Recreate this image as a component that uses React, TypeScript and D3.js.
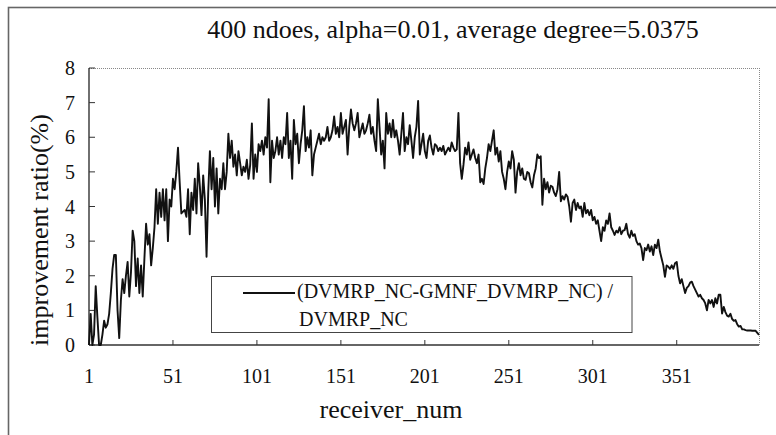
import React from "react";
import * as d3 from "d3";

const title = "400 ndoes, alpha=0.01, average degree=5.0375";
const xLabel = "receiver_num";
const yLabel = "improvement ratio(%)";
const legendLine1 = "(DVMRP_NC-GMNF_DVMRP_NC) /";
const legendLine2 = "DVMRP_NC";

const xTicks = [1, 51, 101, 151, 201, 251, 301, 351];
const yTicks = [0, 1, 2, 3, 4, 5, 6, 7, 8];

const ratio: number[] = [
  0, 0.9, 0, 0.3, 1.7, 0.8, 0, 0, 0.3, 0.7,
  0.5, 0.6, 0.9, 1.5, 2.2, 2.6, 2.6, 1.0, 0.2, 1.3,
  1.9, 1.5, 2.0, 2.4, 1.4, 2.1, 3.3, 3.0, 1.7, 2.5,
  1.5, 2.3, 1.4, 2.5, 3.5, 2.9, 3.2, 2.3, 2.8, 3.4,
  4.5, 3.5, 4.4, 3.7, 4.5, 3.6, 4.5, 3.0, 4.2, 4.0,
  4.8, 4.5, 5.0, 5.7, 4.7, 3.8, 3.85, 3.9, 3.7, 4.5,
  3.2, 4.4, 3.9, 4.8, 3.8, 5.25, 4.6, 3.75, 4.9, 4.2,
  2.55, 4.4, 5.6, 4.5, 5.4, 4.0, 5.1, 3.8, 4.8, 4.5,
  5.25, 4.5, 5.0, 6.1, 5.4, 5.9, 5.15, 5.5, 4.9, 5.6,
  5.25, 4.9, 5.15, 5.0, 5.35, 4.8, 5.2, 6.4, 4.8, 5.5,
  5.0, 5.8, 5.6, 5.9, 5.5, 6.0, 5.7, 7.1, 4.7, 5.9,
  5.4, 5.6, 6.0, 5.5, 5.9, 5.4, 6.0, 5.8, 6.7, 5.4,
  5.9, 4.8, 6.5, 5.8, 6.1, 5.25, 5.8, 6.2, 6.9, 5.6,
  6.0, 5.7, 6.2, 4.9, 5.5, 5.7, 5.9, 6.1, 5.8, 6.0,
  5.9, 6.0, 6.3, 5.9, 6.0, 6.2, 6.6, 6.1, 6.3, 6.0,
  6.7, 6.1, 6.3, 6.5, 5.5, 6.3, 6.8, 6.4, 6.2, 6.4,
  6.7, 6.0, 6.2, 6.4, 6.1, 6.2, 6.4, 6.65, 6.1, 6.3,
  5.9, 5.6, 7.1, 6.3, 5.5, 5.9, 5.1, 6.7, 6.1, 6.4,
  6.0, 6.5, 6.0, 6.2, 5.9, 5.5, 6.1, 6.7, 5.6, 6.0,
  5.8, 6.35, 5.9, 5.4, 6.0, 6.3, 7.05, 5.5, 5.8, 6.1,
  5.6, 5.4, 5.9, 6.05, 5.7, 5.5, 5.8, 5.75, 5.6, 5.7,
  5.6, 5.75, 5.5, 5.6, 5.7, 5.6, 5.85, 5.7, 5.6, 5.65,
  6.7, 5.25, 4.8, 5.2, 5.7, 5.5, 5.85, 5.35, 5.5, 5.65,
  5.4, 5.25, 5.5, 4.7, 4.8, 4.65, 5.1, 5.4, 5.8, 5.6,
  5.9, 6.2, 5.5, 5.7, 5.3, 5.6, 5.0, 4.8, 4.5, 5.0,
  5.3, 5.1, 5.6, 5.35, 4.4, 5.0, 5.25, 4.9, 5.1, 4.8,
  4.77, 5.0, 4.96, 4.7, 4.55, 4.9, 5.1, 5.5, 5.4, 5.45,
  4.05, 4.8, 4.5, 4.7, 4.4, 4.6, 4.57, 4.4, 4.3, 4.5,
  5.0, 4.15, 4.3, 4.2, 4.35, 4.28, 4.0, 3.56, 4.1, 4.2,
  3.9, 4.1, 3.95, 4.0, 3.7, 4.1, 3.8, 3.9, 3.75, 3.9,
  3.6, 3.7, 3.5, 3.6, 3.3, 3.0, 3.4, 3.3, 3.6, 3.5,
  3.8, 3.4, 3.3, 3.18, 3.3, 3.25, 3.4, 3.2, 3.3, 3.32,
  3.5, 3.2, 3.1, 3.3, 3.15, 3.2, 3.0, 2.9, 2.93, 2.8,
  2.45, 2.8, 2.74, 2.9, 2.7, 2.85, 2.6, 2.9, 2.8, 3.04,
  2.7, 2.5, 2.3, 1.97, 2.3, 2.26, 2.2, 2.3, 2.2, 2.36,
  2.4, 2.0, 1.78, 1.9, 1.7, 1.5, 1.65, 1.7, 1.8, 1.83,
  1.7, 1.6, 1.5, 1.4, 1.45, 1.35, 1.3, 1.2, 1.0, 1.3,
  1.2, 1.3, 1.1, 1.35, 1.2, 1.45, 1.45, 0.91, 1.1, 0.95,
  0.85, 0.82, 0.9, 0.75, 0.7, 0.72, 0.6, 0.53, 0.55, 0.45,
  0.45, 0.43, 0.42, 0.42, 0.42, 0.41, 0.41, 0.41, 0.35, 0.29,
];

const W = 776;
const H = 435;
const FONT = '"Liberation Serif", Tinos, "Nimbus Roman", "DejaVu Serif", serif';

export default function App() {
  const x = d3.scaleLinear().domain([1, 400]).range([89, 759]);
  const y = d3.scaleLinear().domain([0, 8]).range([345, 68]);
  const line = d3
    .line<number>()
    .x((_, i) => x(i + 1))
    .y((d) => y(d));
  const [x0, x1] = x.range();
  const [y0, y1] = y.range();
  const txt = { fontFamily: FONT, fill: "#111" } as React.CSSProperties;

  return (
    <div style={{ position: "absolute", left: 0, top: 0 }}>
      <svg width={W} height={H} style={{ display: "block", background: "#fff" }}>
        <rect x={0} y={0} width={W} height={H} fill="#fff" />
        <rect x={8.5} y={7.5} width={900} height={600} fill="none" stroke="#666" strokeWidth={1.6} />
        <text x={453} y={38} textAnchor="middle" style={{ ...txt, fontSize: 26 }}>
          {title}
        </text>
        <line x1={x0} y1={y1 + 0.5} x2={x1} y2={y1 + 0.5} stroke="#888" strokeWidth={1} strokeDasharray="1,1" />
        <line x1={x1 + 0.5} y1={y1} x2={x1 + 0.5} y2={y0} stroke="#888" strokeWidth={1} strokeDasharray="1,1" />
        <line x1={x0} y1={y0} x2={x1} y2={y0} stroke="#333" strokeWidth={1.5} />
        <line x1={x0} y1={y0} x2={x0} y2={y1} stroke="#222" strokeWidth={1.3} />
        {yTicks.map((t) => (
          <g key={"y" + t}>
            <line x1={x0} x2={x0 + 6} y1={y(t)} y2={y(t)} stroke="#333" strokeWidth={1} />
            <text x={75} y={y(t) + 7} textAnchor="end" style={{ ...txt, fontSize: 20 }}>
              {t}
            </text>
          </g>
        ))}
        {xTicks.map((t) => (
          <g key={"x" + t}>
            <line x1={x(t)} x2={x(t)} y1={y0} y2={y0 - 5} stroke="#333" strokeWidth={1} />
            <text x={x(t)} y={383} textAnchor="middle" style={{ ...txt, fontSize: 20 }}>
              {t}
            </text>
          </g>
        ))}
        <text x={391} y={418} textAnchor="middle" style={{ ...txt, fontSize: 26 }}>
          {xLabel}
        </text>
        <text transform={`translate(48,230) rotate(-90)`} textAnchor="middle" style={{ ...txt, fontSize: 26 }}>
          {yLabel}
        </text>
        <path d={line(ratio) || ""} fill="none" stroke="#111" strokeWidth={1.9} strokeLinejoin="round" />
        <rect x={211.5} y={276.5} width={420.5} height={56} fill="#fff" stroke="#444" strokeWidth={1} />
        <line x1={243} x2={295} y1={293} y2={293} stroke="#111" strokeWidth={1.8} />
        <text x={297} y={298} style={{ ...txt, fontSize: 20 }}>
          {legendLine1}
        </text>
        <text x={299} y={326} style={{ ...txt, fontSize: 20 }}>
          {legendLine2}
        </text>
      </svg>
    </div>
  );
}
